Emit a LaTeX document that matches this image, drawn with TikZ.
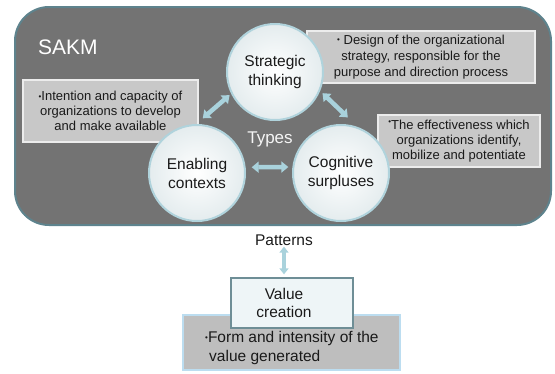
\documentclass[tikz,border=0pt]{standalone}
\usepackage{fontspec}
\setmainfont{Liberation Sans}
\usetikzlibrary{calc,arrows.meta}
\definecolor{bggray}{HTML}{737373}
\definecolor{bgedge}{HTML}{5E838D}
\definecolor{boxgray}{HTML}{C8C8C8}
\definecolor{lowgray}{HTML}{BEBEBE}
\definecolor{lowedge}{HTML}{BCDDF0}
\definecolor{arrowblue}{HTML}{A9D2DC}
\definecolor{circedge}{HTML}{B0D3DC}
\definecolor{circshade}{HTML}{E4ECEE}
\definecolor{vcfill}{HTML}{EEF5F7}
\definecolor{vcedge}{HTML}{6E8E96}
\definecolor{txt}{HTML}{1A1A1A}
\newcommand{\smbul}{\raisebox{1.5pt}{\fontsize{8}{8}\selectfont\textbullet}}
\tikzset{
  circnode/.style={circle, minimum size=96pt, inner sep=0pt, align=center,
    inner color=white, outer color=circshade, draw=circedge, line width=2pt,
    text=txt, font=\fontsize{15.5}{19}\selectfont},
  infobox/.style={rectangle, fill=boxgray, draw=white!85!gray, line width=1.3pt,
    align=center, inner sep=0pt, text=txt, font=\fontsize{13}{15}\selectfont},
  fatarrow/.style={draw=arrowblue, line width=4.5pt,
    {Triangle[width=11pt,length=7pt]}-{Triangle[width=11pt,length=7pt]}},
}
\begin{document}
\begin{tikzpicture}[x=1pt,y=1pt]
\useasboundingbox (0,0) rectangle (555,-373);
% main panel
\node[draw=bgedge, fill=bggray, line width=2pt, rounded corners=34pt,
  minimum width=536pt, minimum height=218pt, inner sep=0pt] (panel) at (283,-116) {};
\node[anchor=west, text=white, font=\fontsize{21}{24}\selectfont, inner sep=0pt] (sakm) at (38,-47) {SAKM};
\node[text=white!92!gray, font=\fontsize{17}{20}\selectfont, inner sep=0pt] (types) at (270,-139) {Types};
% info boxes
\node[infobox, minimum width=175pt, minimum height=62pt] (lbox) at (110.5,-111)
  {\smbul Intention and capacity of\\organizations to develop\\and make available};
\node[infobox, minimum width=228pt, minimum height=52pt, font=\fontsize{13}{16}\selectfont] (tbox) at (421,-57)
  {\smbul\ Design of the organizational\\strategy, responsible for the\\purpose and direction process};
\node[infobox, minimum width=162pt, minimum height=52pt] (rbox) at (459,-141)
  {\raisebox{3pt}{\smbul}The effectiveness which\\organizations identify,\\mobilize and potentiate};
% circles
\node[circnode] (strat) at (275,-72) {\raisebox{-6pt}{\shortstack{Strategic\\[2pt]thinking}}};
\node[circnode] (enab) at (197,-173) {Enabling\\contexts};
\node[circnode] (cog) at (341,-173) {Cognitive\\surpluses};
% arrows between circles
\draw[fatarrow] ($(enab.center)+(84:55)$) -- ($(strat.center)+(207:51)$);
\draw[fatarrow] ($(strat.center)+(-24:52)$) -- ($(cog.center)+(83:56)$);
\draw[fatarrow] ($(enab.center)+(6:55)$) -- ($(cog.center)+(173.5:53)$);
% bottom part
\node[text=txt, font=\fontsize{15.5}{18}\selectfont, inner sep=0pt] (pat) at (284,-240) {Patterns};
\node[rectangle, fill=lowgray, draw=lowedge, line width=2pt, minimum width=217pt,
  minimum height=55pt, inner sep=0pt] (low) at (291.5,-342.5) {};
\node[anchor=west, align=left, text=txt, font=\fontsize{15.5}{19}\selectfont, inner sep=0pt] (lowtxt) at (205,-347.5)
  {\smbul Form and intensity of the\\\hspace*{4pt}value generated};
\node[rectangle, fill=vcfill, draw=vcedge, line width=1.3pt, minimum width=122pt,
  minimum height=50pt, inner sep=0pt, align=center, text=txt,
  font=\fontsize{15.5}{18.5}\selectfont] (vc) at (292,-303) {\hspace*{-16pt}Value\\\hspace*{-16pt}creation};
\draw[draw=arrowblue, line width=3.5pt, {Triangle[width=9pt,length=6pt]}-{Triangle[width=9pt,length=6pt]}]
  ($(pat.south)+(0,-1)$) -- ($(pat.south |- vc.north)+(0,3)$);
\end{tikzpicture}
\end{document}
